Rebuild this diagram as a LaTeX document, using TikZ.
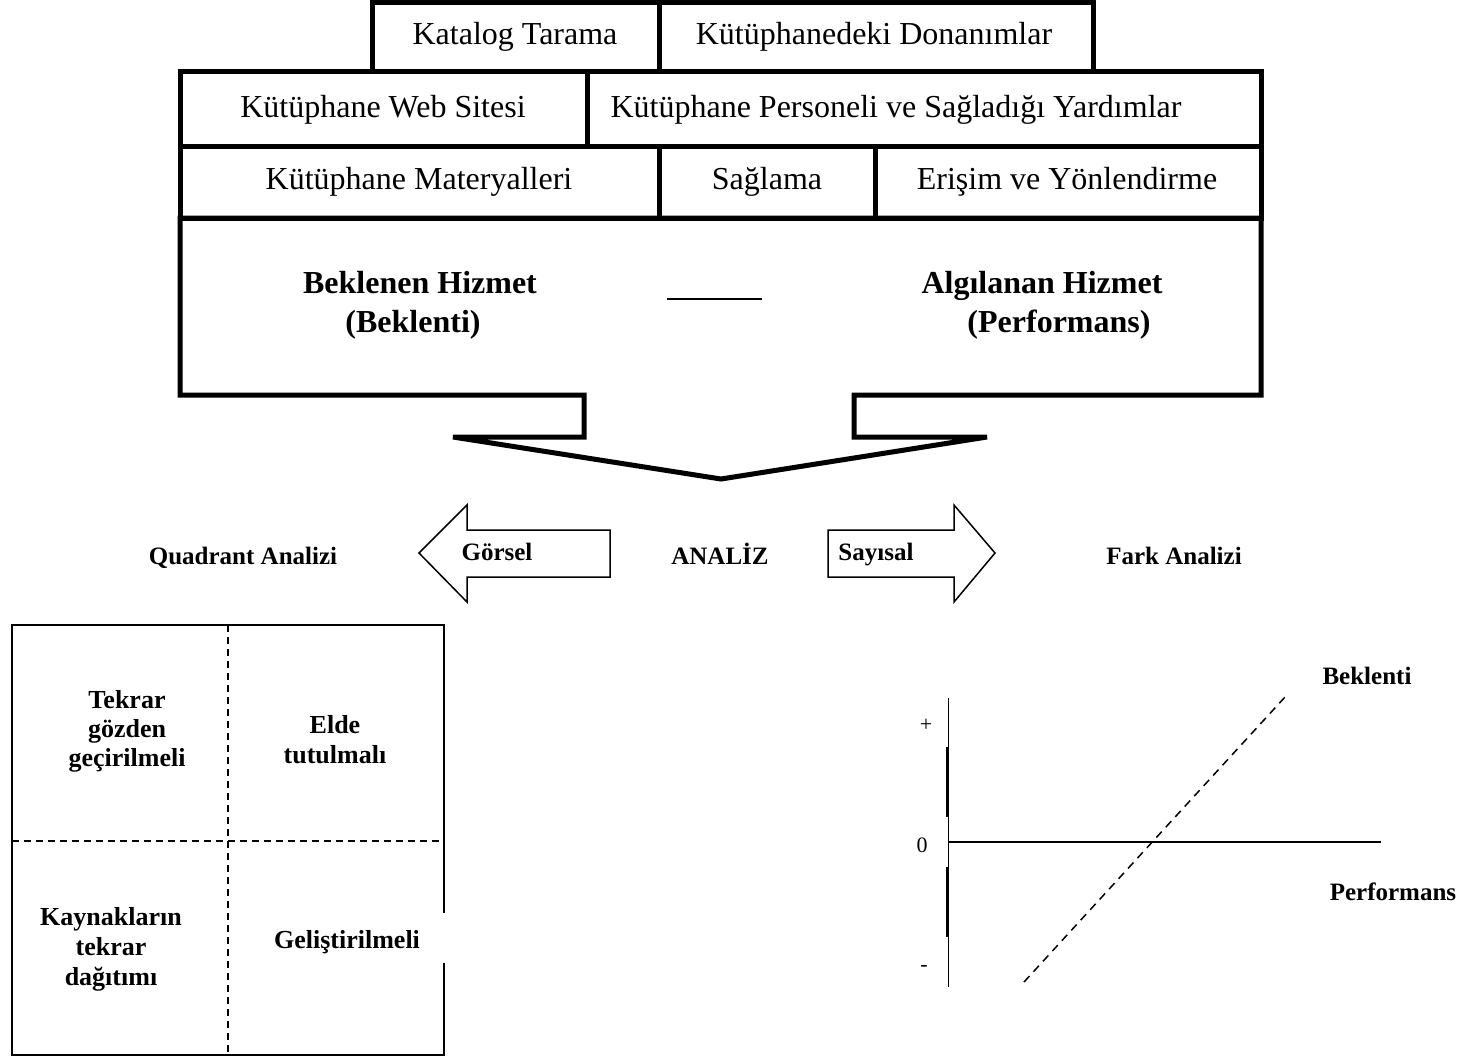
\documentclass[tikz,border=0pt]{standalone}
\usepackage{fontspec}
\setmainfont{Liberation Serif}
\begin{document}
\begin{tikzpicture}[x=1pt,y=-1pt,
  heavy/.style={line width=5pt, line join=miter},
  thin/.style={line width=1.5pt},
  toptext/.style={anchor=base, inner sep=0pt, font=\fontsize{32}{38}\selectfont},
  boldtext/.style={anchor=base, inner sep=0pt, font=\fontsize{32}{38}\selectfont\bfseries},
  midtext/.style={anchor=base, inner sep=0pt, font=\fontsize{25}{30}\selectfont\bfseries},
  quadtext/.style={anchor=base, inner sep=0pt, font=\fontsize{26}{30}\selectfont\bfseries},
  axistext/.style={anchor=base, inner sep=0pt, font=\fontsize{22}{26}\selectfont},
  graphtext/.style={anchor=base, inner sep=0pt, font=\fontsize{25}{30}\selectfont\bfseries},
  quaddash/.style={line width=1.5pt, dash pattern=on 7pt off 5pt},
  linedash/.style={line width=1.5pt, dash pattern=on 8pt off 6pt}]
\useasboundingbox (0,0) rectangle (1472,1058);

% --- stacked service dimension boxes ---
\draw[heavy] (372,2) rectangle (1093,71);
\draw[heavy] (659,2) -- (659,71);
\draw[heavy] (180,71) rectangle (1261,146);
\draw[heavy] (587,71) -- (587,146);
\draw[heavy] (180,146) rectangle (1261,218);
\draw[heavy] (659,146) -- (659,218);
\draw[heavy] (875,146) -- (875,218);

\node[toptext] (katalog) at (515,44) {Katalog Tarama};
\node[toptext] (donanim) at (874,44) {Kütüphanedeki Donanımlar};
\node[toptext] (web) at (383,117) {Kütüphane Web Sitesi};
\node[toptext] (personel) at (896,117) {Kütüphane Personeli ve Sağladığı Yardımlar};
\node[toptext] (materyal) at (419,189) {Kütüphane Materyalleri};
\node[toptext] (saglama) at (767,189) {Sağlama};
\node[toptext] (erisim) at (1067,189) {Erişim ve Yönlendirme};

% --- gap box with downward block arrow ---
\draw[heavy] (180,218) -- (180,395) -- (584,395) -- (584,437) -- (453,437)
  -- (721,479) -- (987,437) -- (854,437) -- (854,395) -- (1261,395)
  -- (1261,218) -- cycle;

\node[boldtext] (beklenen) at (420,293) {Beklenen Hizmet};
\node[boldtext] (beklenti) at (413,332) {(Beklenti)};
\node[boldtext] (algilanan) at (1042,293) {Algılanan Hizmet};
\node[boldtext] (performans) at (1059,332) {(Performans)};
\draw[line width=2.5pt] (667,299) -- (762,299);

% --- analysis arrows ---
\draw[thin, line join=miter] (610,530) -- (467,530) -- (467,505) -- (419,553)
  -- (467,602) -- (467,577) -- (610,577) -- cycle;
\draw[thin, line join=miter] (828,530) -- (954,530) -- (954,505) -- (995,553)
  -- (954,602) -- (954,577) -- (828,577) -- cycle;

\node[midtext] (quadrant) at (243,564) {Quadrant Analizi};
\node[midtext] (gorsel) at (497,560) {Görsel};
\node[midtext] (analiz) at (720,564) {ANALİZ};
\node[midtext] (sayisal) at (876,560) {Sayısal};
\node[midtext] (fark) at (1174,564) {Fark Analizi};

% --- quadrant grid ---
\draw[thin] (444,913) -- (444,625) -- (12,625) -- (12,1055) -- (444,1055) -- (444,963);
\draw[quaddash] (228,625) -- (228,1055);
\draw[quaddash] (12,841) -- (444,841);

\node[quadtext] (q1a) at (127,708) {Tekrar};
\node[quadtext] (q1b) at (127,737) {gözden};
\node[quadtext] (q1c) at (127,766) {geçirilmeli};
\node[quadtext] (q2a) at (335,733) {Elde};
\node[quadtext] (q2b) at (335,763) {tutulmalı};
\node[quadtext] (q3a) at (111,925) {Kaynakların};
\node[quadtext] (q3b) at (111,955) {tekrar};
\node[quadtext] (q3c) at (111,985) {dağıtımı};
\node[quadtext] (q4) at (347,948) {Geliştirilmeli};

% --- gap graph ---
\draw[line width=1pt] (948,698) -- (948,987);
\draw[line width=2.5pt] (947,747) -- (947,817);
\draw[line width=2.5pt] (947,867) -- (947,937);
\draw[line width=2.5pt] (948,842) -- (1381,842);
\draw[linedash] (1024,982) -- (1285,697);

\node[axistext] (plus) at (926,731) {+};
\node[axistext] (zero) at (922,852) {0};
\node[axistext] (minus) at (924,971) {-};
\node[graphtext] (lblbeklenti) at (1367,684) {Beklenti};
\node[graphtext] (lblperformans) at (1393,900) {Performans};
\end{tikzpicture}
\end{document}
